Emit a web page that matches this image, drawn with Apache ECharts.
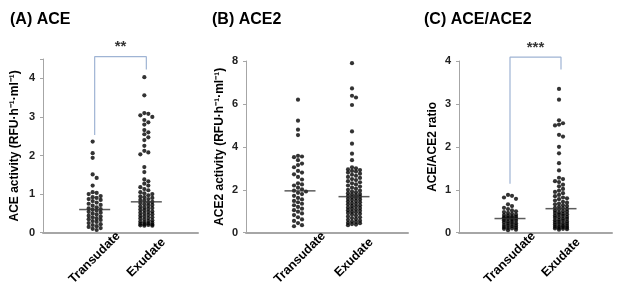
<!DOCTYPE html>
<html>
<head>
<meta charset="utf-8">
<script src="https://cdn.jsdelivr.net/npm/echarts@6/dist/echarts.min.js"></script>
<style>
  html, body { margin: 0; padding: 0; background: #fff; }
  #main { width: 621px; height: 288px; }
</style>
</head>
<body>
<div id="main"></div>
<script>
var groups = ['Transudate', 'Exudate'];

// (A) ACE activity
var aceTrans = [2.36, 2.06, 1.94, 1.51, 1.42, 1.22, 1.05, 1.03, 1.0, 0.95, 0.92, 0.9, 0.87, 0.85, 0.82, 0.78, 0.75, 0.72, 0.7, 0.66, 0.63, 0.61,
  0.6, 0.57, 0.54, 0.52, 0.5, 0.47, 0.44, 0.42, 0.4, 0.37, 0.35, 0.33, 0.3, 0.28, 0.25, 0.22, 0.2, 0.17, 0.15, 0.12, 0.1, 0.07];
var aceExu = [4.03, 3.56, 3.1, 3.08, 3.04, 3.0, 2.92, 2.86, 2.8, 2.66, 2.6, 2.55, 2.47, 2.4, 2.25, 2.12, 2.08, 2.03, 1.7, 1.57, 1.38, 1.33,
  1.27, 1.22, 1.18, 1.13, 1.1, 1.05, 1.02, 1.0, 0.97, 0.94, 0.92, 0.9, 0.87, 0.85, 0.83,
  0.8, 0.78, 0.77, 0.74, 0.72, 0.7, 0.68, 0.65, 0.64, 0.62, 0.6, 0.58, 0.55, 0.54, 0.52, 0.5, 0.48, 0.46, 0.44, 0.42, 0.4, 0.38,
  0.37, 0.34, 0.32, 0.3, 0.29, 0.27, 0.26, 0.24, 0.23, 0.22, 0.21, 0.2, 0.19, 0.18, 0.18];
var aceMedian = [0.6, 0.8];

// (B) ACE2 activity
var ace2Trans = [6.2, 5.22, 4.8, 4.55, 3.58, 3.55, 3.52, 3.38, 3.22, 3.15, 3.05, 2.88, 2.8, 2.72, 2.6, 2.48, 2.3, 2.25, 2.2, 2.1, 2.02, 1.96,
  1.92, 1.86, 1.8, 1.72, 1.62, 1.55, 1.48, 1.42, 1.35, 1.28, 1.2, 1.12, 1.05, 0.98, 0.9, 0.82, 0.72, 0.62, 0.55, 0.45, 0.35, 0.3];
var ace2Exu = [7.9, 6.72, 6.38, 6.3, 5.95, 4.72, 4.15, 3.68, 3.38,
  3.05, 3.0, 2.95, 2.92, 2.88, 2.85, 2.8, 2.75, 2.7, 2.65, 2.6, 2.55, 2.5, 2.45, 2.4, 2.35, 2.3, 2.25, 2.2, 2.15, 2.1, 2.05, 2.0, 1.96,
  1.92, 1.88, 1.84, 1.8, 1.77, 1.74, 1.71,
  1.68, 1.65, 1.62, 1.58, 1.55, 1.52, 1.48, 1.45, 1.42, 1.38, 1.35, 1.32, 1.28, 1.25, 1.22, 1.18, 1.15, 1.12, 1.08, 1.05, 1.02, 0.98,
  0.95, 0.92, 0.88, 0.85, 0.8, 0.76, 0.72, 0.68, 0.64, 0.6, 0.56, 0.52, 0.5, 0.46, 0.44, 0.4, 0.38, 0.35];
var ace2Median = [1.95, 1.68];

// (C) ACE/ACE2 ratio
var ratioTrans = [0.88, 0.86, 0.82, 0.79, 0.66, 0.62, 0.58, 0.55, 0.52, 0.5, 0.48, 0.46, 0.44, 0.42, 0.41, 0.4, 0.38, 0.37, 0.36, 0.35,
  0.34, 0.33, 0.33, 0.32, 0.3, 0.29, 0.28, 0.26, 0.25, 0.24, 0.22, 0.21, 0.2, 0.18, 0.17, 0.16, 0.15, 0.13, 0.12, 0.11, 0.1, 0.09, 0.07, 0.06];
var ratioExu = [3.35, 3.1, 2.62, 2.55, 2.52, 2.5, 2.28, 2.24, 2.0, 1.85, 1.62, 1.45, 1.28, 1.25, 1.2, 1.18, 1.12, 1.08, 1.02, 0.98,
  0.95, 0.92, 0.88, 0.85, 0.82, 0.8, 0.78, 0.75, 0.72, 0.7, 0.68, 0.66, 0.64, 0.62, 0.6, 0.58, 0.57, 0.55,
  0.54, 0.52, 0.5, 0.49, 0.47, 0.46, 0.44, 0.43, 0.42, 0.4, 0.39, 0.37, 0.36, 0.35, 0.33, 0.32, 0.3, 0.29, 0.28, 0.26, 0.25,
  0.24, 0.22, 0.21, 0.2, 0.19, 0.17, 0.16, 0.15, 0.14, 0.13, 0.12, 0.11, 0.1, 0.09, 0.08, 0.07];
var ratioMedian = [0.33, 0.56];

// significance brackets: [transudate end, top, exudate end]
var bracketA = [2.53, 4.56, 4.23];
var bracketC = [1.14, 4.09, 3.8];

var font = "'Liberation Sans', Arial, sans-serif";
var panels = [
  {title: '(A) ACE', name: 'ACE activity (RFU·h⁻¹·ml⁻¹)', max: 4.5, trans: aceTrans, exu: aceExu, median: aceMedian,
    grid: {left: 43, top: 59, width: 155, height: 178}, titleLeft: 5, nameGap: 22},
  {title: '(B) ACE2', name: 'ACE2 activity (RFU·h⁻¹·ml⁻¹)', max: 8, trans: ace2Trans, exu: ace2Exu, median: ace2Median,
    grid: {left: 246, top: 61, width: 162, height: 176}, titleLeft: 207, nameGap: 20},
  {title: '(C) ACE/ACE2', name: 'ACE/ACE2 ratio', max: 4, trans: ratioTrans, exu: ratioExu, median: ratioMedian,
    grid: {left: 459, top: 61, width: 153, height: 176}, titleLeft: 419, nameGap: 20}
];

var option = {
  animation: false,
  textStyle: {fontFamily: font},
  title: [], grid: [], xAxis: [], yAxis: [], series: []
};

panels.forEach(function (p, i) {
  option.title.push({
    text: p.title, left: p.titleLeft, top: 7,
    textStyle: {fontFamily: font, fontSize: 16, fontWeight: 'bold', color: '#000'}
  });
  option.grid.push(p.grid);
  option.xAxis.push({
    type: 'value', gridIndex: i, min: 0, max: 3, interval: 1,
    splitLine: {show: false}, axisTick: {show: false},
    axisLine: {lineStyle: {color: '#a6a6a6', width: 2}},
    axisLabel: {
      rotate: 45, align: 'center', verticalAlign: 'middle', margin: 25,
      fontFamily: font, fontSize: 12.5, fontWeight: 'bold', color: '#000',
      formatter: function (v) { return groups[v - 1] || ''; }
    }
  });
  option.yAxis.push({
    type: 'value', gridIndex: i, min: 0, max: p.max, interval: p.max === 8 ? 2 : 1,
    splitLine: {show: false},
    axisLine: {show: true, lineStyle: {color: '#a6a6a6', width: 1}},
    axisTick: {show: true, length: 3, lineStyle: {color: '#a6a6a6'}},
    axisLabel: {fontFamily: font, fontSize: 11, fontWeight: 'bold', color: '#222', margin: 8,
      formatter: function (v) { return Number.isInteger(v) ? v : ''; }},
    name: p.name, nameLocation: 'middle', nameGap: p.nameGap,
    nameTextStyle: {fontFamily: font, fontSize: 12, fontWeight: 'bold', color: '#000'}
  });
  [p.trans, p.exu].forEach(function (vals, g) {
    option.series.push({
      type: 'scatter', xAxisIndex: i, yAxisIndex: i, symbolSize: 4.2,
      itemStyle: {color: '#000'}, z: 3,
      data: vals.map(function (v) { return [g + 1, v]; })
    });
  });
  option.series.push({
    type: 'scatter', xAxisIndex: i, yAxisIndex: i, symbol: 'rect', symbolSize: [31, 1.5],
    itemStyle: {color: '#333'}, z: 4,
    data: p.median.map(function (m, g) { return [g + 1, m]; })
  });
});

function addBracket(i, b, stars) {
  option.series.push({
    type: 'line', xAxisIndex: i, yAxisIndex: i, clip: false, symbol: 'none',
    lineStyle: {color: '#9fb4d4', width: 1.2},
    data: [[1, b[0]], [1, b[1]], [2, b[1]], [2, b[2]]]
  });
  option.series.push({
    type: 'scatter', xAxisIndex: i, yAxisIndex: i, clip: false, symbolSize: 0,
    label: {show: true, position: 'top', distance: 2, formatter: stars,
      fontFamily: font, fontSize: 15, fontWeight: 'bold', color: '#000'},
    data: [[1.5, b[1]]]
  });
}
addBracket(0, bracketA, '**');
addBracket(2, bracketC, '***');

var chart = echarts.init(document.getElementById('main'));
chart.setOption(option);

// dot-plot layout: up to four columns, dots may overlap vertically when crowded
function swarm(gridIndex, xPos, vals) {
  var cols = [-2, 2, -6, 6], placed = [];
  return vals.map(function (v) {
    var py = chart.convertToPixel({gridIndex: gridIndex}, [xPos, v])[1];
    var best = cols[0], bestGap = -1;
    for (var k = 0; k < cols.length; k++) {
      var c = cols[k], gap = Infinity;
      placed.forEach(function (q) {
        if (q[0] === c) gap = Math.min(gap, Math.abs(q[1] - py));
      });
      if (gap >= 4) { best = c; bestGap = gap; break; }
      if (gap > bestGap) { best = c; bestGap = gap; }
    }
    placed.push([best, py]);
    return {value: [xPos, v], symbolOffset: [best, 0]};
  });
}

var upd = option.series.map(function () { return {}; });
panels.forEach(function (p, i) {
  upd[i * 3] = {data: swarm(i, 1, p.trans)};
  upd[i * 3 + 1] = {data: swarm(i, 2, p.exu)};
});
chart.setOption({series: upd});
</script>
</body>
</html>
